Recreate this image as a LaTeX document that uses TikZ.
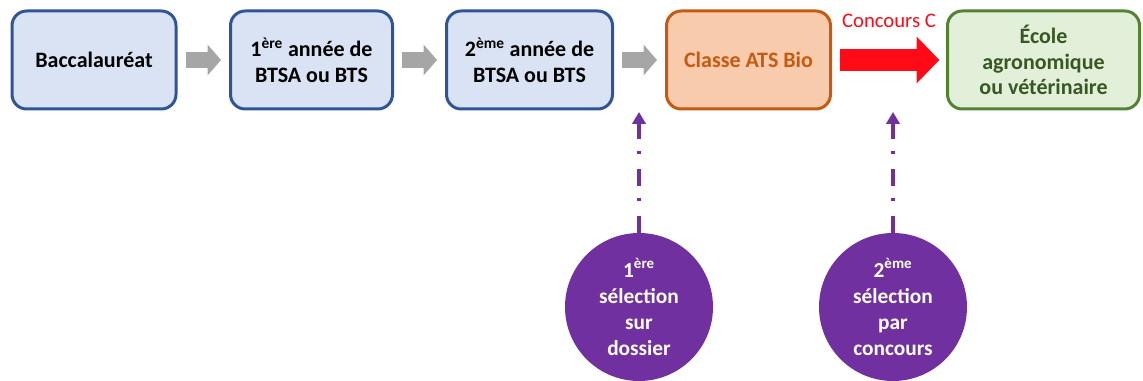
\documentclass[tikz,border=0pt]{standalone}
\usepackage{fontspec}
\setmainfont{Carlito}
\usetikzlibrary{arrows.meta}
\definecolor{stageblue}{HTML}{2F5597}
\definecolor{stagefill}{HTML}{DAE3F3}
\definecolor{atsorange}{HTML}{C55A11}
\definecolor{atsfill}{HTML}{F8CBAD}
\definecolor{ecolegreen}{HTML}{548235}
\definecolor{ecoletext}{HTML}{385723}
\definecolor{ecolefill}{HTML}{E2F0D9}
\definecolor{selpurple}{HTML}{7030A0}
\definecolor{arrowgray}{HTML}{A6A6A6}
\definecolor{concoursred}{HTML}{FF0A16}
\begin{document}
\begin{tikzpicture}[x=0.75pt, y=-0.75pt,
	stage/.style={draw=stageblue, fill=stagefill, line width=2.25pt, rounded corners=11pt,
		align=center, inner sep=0pt, minimum height=73.5pt,
		font=\bfseries\fontsize{16.5}{19}\selectfont},
	ats/.style={stage, draw=atsorange, fill=atsfill, text=atsorange},
	ecole/.style={stage, draw=ecolegreen, fill=ecolefill, text=ecoletext},
	selection/.style={circle, fill=selpurple, text=white, align=center, inner sep=0pt,
		minimum size=111pt, font=\bfseries\fontsize{16}{19.5}\selectfont},
	nextstep/.style={draw=arrowgray, line width=12.5pt, shorten <=6pt, shorten >=6pt,
		-{Triangle[length=10pt, width=22.5pt]}},
	concours/.style={draw=concoursred, line width=16.5pt, shorten <=6pt, shorten >=5pt,
		-{Triangle[length=17pt, width=34pt]}},
	selarrow/.style={draw=selpurple, line width=3pt,
		dash pattern=on 12.75pt off 11.25pt on 2.25pt off 9pt,
		-{Triangle[length=9pt, width=10pt]}}]
	\useasboundingbox (0, 0) rectangle (1143, 381);

	\node[stage, minimum width=123pt](A) at (94, 60){Baccalauréat};
	\node[stage, minimum width=121.5pt](B) at (311.5, 60){1\textsuperscript{ère} année de\\BTSA ou BTS};
	\node[stage, minimum width=124.5pt](C) at (529.5, 60){2\textsuperscript{ème} année de\\BTSA ou BTS};
	\node[ats, minimum width=123pt](D) at (748.5, 60){Classe ATS Bio};
	\node[ecole, minimum width=144pt](E) at (1043.5, 60){École\\agronomique\\ou vétérinaire};
	\node[selection](F) at (639, 307){1\textsuperscript{ère}\\sélection\\sur\\dossier};
	\node[selection](G) at (893, 307){2\textsuperscript{ème}\\sélection\\par\\concours};
	\coordinate(F1) at (639, 112);
	\coordinate(G1) at (893, 112);

	\draw [nextstep] (A) -- (B);
	\draw [nextstep] (B) -- (C);
	\draw [nextstep] (C) -- (D);
	\draw [concours] (D) -- node[midway, anchor=base, yshift=24pt, text=concoursred,
		font=\fontsize{15.5}{19}\selectfont]{Concours C} (E);
	\draw [selarrow] (F) -- (F1);
	\draw [selarrow] (G) -- (G1);
\end{tikzpicture}
\end{document}
